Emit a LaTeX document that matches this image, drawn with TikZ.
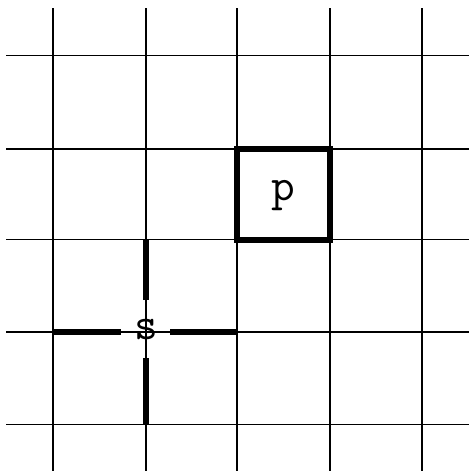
\documentclass[tikz,border=0pt]{standalone}
\begin{document}
\begin{tikzpicture}[x=1pt,y=-1pt,
  gridline/.style={line width=1.6pt,black},
  thickline/.style={line width=6pt,black},
  lbl/.style={font=\ttfamily\fontsize{46}{46}\selectfont,inner sep=0pt}]
\useasboundingbox (0,0) rectangle (469,471);
% grid
\foreach \x in {53,146,237,330,422} \draw[gridline] (\x,8) -- (\x,471);
\foreach \y in {55.5,149,239.5,332,424.5} \draw[gridline] (6,\y) -- (469,\y);
% p box
\coordinate (pa) at (237,149);
\coordinate (pb) at (330,239.5);
\draw[thickline] (pa) rectangle (pb);
\node[lbl] (p) at (283.5,196) {p};
% s with cross
\node[lbl] (s) at (146,330) {s};
\coordinate (sN) at (146,239.5);
\coordinate (sS) at (146,424.5);
\coordinate (sW) at (53,332);
\coordinate (sE) at (237,332);
\coordinate (gN) at (146,300);
\coordinate (gS) at (146,358);
\coordinate (gW) at (121,332);
\coordinate (gE) at (170,332);
\draw[thickline] (sN) -- (gN);
\draw[thickline] (gS) -- (sS);
\draw[thickline] (sW) -- (gW);
\draw[thickline] (gE) -- (sE);
\end{tikzpicture}
\end{document}
